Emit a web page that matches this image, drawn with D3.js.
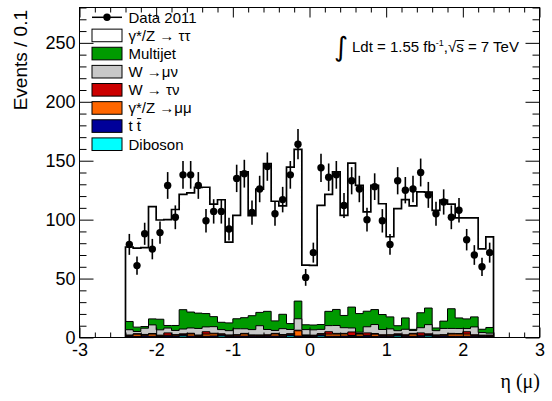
<!DOCTYPE html>
<html><head><meta charset="utf-8">
<script src="https://cdn.jsdelivr.net/npm/d3@7"></script>
<style>body{margin:0;background:#fff} svg{display:block}</style>
</head><body><svg id="c" width="552" height="401"></svg>
<script>
// ---- data ----
const etaLow = [-2.4,-2.3,-2.2,-2.1,-2.0,-1.9,-1.8,-1.7,-1.6,-1.5,-1.4,-1.3,-1.2,-1.1,-1.0,-0.9,-0.8,-0.7,-0.6,-0.5,-0.4,-0.3,-0.2,-0.1,
                0.0,0.1,0.2,0.3,0.4,0.5,0.6,0.7,0.8,0.9,1.0,1.1,1.2,1.3,1.4,1.5,1.6,1.7,1.8,1.9,2.0,2.1,2.2,2.3];
const binWidth = 0.1;
const data2011 = [79,61,88,75,89,129,102,138,138,129,99,107,107,92,135,139,106,126,145,105,117,138,164,51,
                  72,144,136,138,112,133,126,100,128,99,79,133,125,126,140,121,105,115,102,108,83,70,60,72];
const ztautau = [63.2,67.0,67.0,95.2,84.2,89.9,98.4,97.8,101.1,106.6,107.2,95.5,104.0,68.5,87.7,123.8,84.9,104.6,125.3,101.5,92.0,132.7,128.7,50.6,
                 50.6,101.1,99.3,116.8,84.9,122.1,108.7,84.3,105.3,94.0,68.0,99.4,100.4,104.7,102.6,98.4,99.8,102.7,88.7,84.9,85.7,84.0,68.2,76.8];
const multijet = [7.0,3.7,1.4,5.1,9.0,2.2,4.2,16.4,13.5,13.0,11.3,8.5,6.2,6.6,8.5,9.4,11.8,11.3,15.4,8.1,12.2,5.0,15.0,4.1,
                  4.1,4.1,12.1,13.6,10.4,17.7,15.8,13.2,12.7,12.7,10.2,4.2,9.6,0.9,12.7,14.1,2.3,6.2,16.7,9.0,8.2,8.5,2.8,4.8];
const wmunu = [4.5,1.9,5.3,7.3,4.5,4.1,3.6,4.1,4.5,5.6,4.1,5.6,3.6,3.6,5.0,3.9,4.5,7.8,4.5,2.5,5.0,3.6,9.7,4.5,
               4.5,3.6,5.2,6.7,4.8,3.4,1.1,5.2,7.6,4.5,5.0,2.7,4.7,2.5,4.4,7.8,3.6,5.3,4.2,4.2,2.7,6.7,2.2,1.6];
const wtaunu = [0.5,0.4,0.6,0.5,0.5,2.0,0.4,0.5,0.6,0.5,2.0,0.5,0.4,0.6,0.5,0.5,0.4,0.6,0.5,0.5,0.6,0.4,0.5,0.5,
                0.4,0.5,2.0,0.6,0.5,3.0,0.5,2.0,0.6,0.5,0.4,0.5,0.5,0.6,2.0,0.5,0.4,0.5,0.6,0.5,2.0,0.5,0.4,0.5];
const zmumu = [0.6,1.8,0.7,1.8,0.6,0.7,0.8,0.6,1.8,0.7,1.8,1.8,0.7,0.6,0.8,1.8,0.7,0.6,0.7,1.8,0.8,0.6,4.5,0.7,
               0.6,0.7,1.8,1.8,1.8,0.7,1.8,0.6,1.8,0.7,0.8,0.6,0.7,1.8,0.7,0.6,0.8,0.7,1.8,1.8,1.8,0.7,0.6,0.7];
const ttbar = [0.7,0.8,0.9,0.8,0.7,0.9,0.8,0.8,0.9,0.7,0.8,0.9,0.8,0.7,0.9,0.8,0.8,0.7,0.9,0.8,0.8,0.9,0.8,0.7,
               0.8,0.9,0.8,0.7,0.9,0.8,0.8,0.9,0.7,0.8,0.9,0.8,0.8,0.7,0.9,0.8,0.8,0.9,0.7,0.8,0.9,0.8,0.7,0.7];
const diboson = [0.3,0.2,0.4,0.3,0.2,0.3,0.4,1.2,0.3,0.2,0.3,0.4,1.2,0.3,0.2,0.4,0.3,0.3,0.2,0.4,0.3,1.3,0.4,0.3,
                 0.2,1.2,0.3,0.4,0.3,0.2,0.3,0.4,0.3,0.3,0.2,1.2,0.3,0.4,0.3,1.2,0.2,0.3,0.4,0.3,0.2,0.3,0.3,0.2];
const xTicks = [-3,-2,-1,0,1,2,3];
const yTicks = [0,50,100,150,200,250];
const seriesKeys = ["diboson","ttbar","zmumu","wtaunu","wmunu","multijet","ztautau"]; // bottom -> top
const seriesColors = {diboson:"#00ffff", ttbar:"#000099", zmumu:"#ff6600", wtaunu:"#cc0000",
                      wmunu:"#c8c8c8", multijet:"#009a00", ztautau:"#ffffff"};
const legendKeys = ["data","ztautau","multijet","wmunu","wtaunu","zmumu","ttbar","diboson"];

// ---- setup ----
const svg = d3.select("#c");
const FONT = "'Liberation Sans', Arial, Helvetica, sans-serif";
const SERIF = "'Liberation Serif', 'Times New Roman', serif";
const x = d3.scaleLinear().domain([-3,3]).range([79.5,539.5]);
const y = d3.scaleLinear().domain([0,280]).range([337.5,7.5]);

const rows = etaLow.map((e,i)=>({lo:e, hi:e+binWidth, diboson:diboson[i], ttbar:ttbar[i], zmumu:zmumu[i],
  wtaunu:wtaunu[i], wmunu:wmunu[i], multijet:multijet[i], ztautau:ztautau[i]}));
const stacked = d3.stack().keys(seriesKeys)(rows);

// histogram step points
function stepPts(layer){
  const pts = [{x:layer[0].data.lo, v:0}];
  layer.forEach(d=>pts.push({x:d.data.lo, v:d[1]}));
  const last = layer[layer.length-1];
  pts.push({x:last.data.hi, v:last[1]});
  pts.push({x:last.data.hi, v:0});
  return pts;
}
const area = d3.area().curve(d3.curveStepAfter).x(d=>x(d.x)).y0(y(0)).y1(d=>y(d.v));
const line = d3.line().curve(d3.curveStepAfter).x(d=>x(d.x)).y(d=>y(d.v));

const gh = svg.append("g");
// draw from top of the stack down so lower layers overpaint
for (let k = stacked.length-1; k>=0; k--){
  const layer = stacked[k];
  const pts = stepPts(layer);
  gh.append("path").attr("d", area(pts)).attr("fill", seriesColors[layer.key]).attr("stroke","none");
  gh.append("path").attr("d", line(pts)).attr("fill","none").attr("stroke","#000")
    .attr("stroke-width", layer.key==="ztautau"?1.7:1);
}

// data points
const gd = svg.append("g");
data2011.forEach((v,i)=>{
  const cx = x(etaLow[i]+binWidth/2);
  const err = Math.sqrt(v);
  gd.append("line").attr("x1",cx).attr("x2",cx).attr("y1",y(v-err)).attr("y2",y(v+err))
    .attr("stroke","#000").attr("stroke-width",1.6);
  gd.append("circle").attr("cx",cx).attr("cy",y(v)).attr("r",3.7).attr("fill","#000");
});

// ---- axes ----
const xMinor = d3.range(-3,3.001,0.2).filter(t=>Math.abs(t-Math.round(t))>1e-6);
const yMinor = d3.range(0,281,10).filter(t=>t%50!==0);
function styleAxis(g){
  g.select(".domain").remove();
  g.selectAll("line").attr("stroke","#000").attr("stroke-width",1);
  g.selectAll("text").attr("font-family",FONT).attr("font-size",18).attr("fill","#000");
}
svg.append("g").attr("transform",`translate(0,${y(0)})`)
  .call(d3.axisBottom(x).tickValues(xTicks).tickSize(-10).tickPadding(6).tickFormat(d=>String(d))).call(styleAxis);
svg.append("g").attr("transform",`translate(0,${y(0)})`)
  .call(d3.axisBottom(x).tickValues(xMinor).tickSize(-5).tickFormat("")).call(styleAxis);
svg.append("g").attr("transform",`translate(0,${y(280)})`)
  .call(d3.axisTop(x).tickValues(xTicks).tickSize(-10).tickFormat("")).call(styleAxis);
svg.append("g").attr("transform",`translate(0,${y(280)})`)
  .call(d3.axisTop(x).tickValues(xMinor).tickSize(-5).tickFormat("")).call(styleAxis);
svg.append("g").attr("transform",`translate(${x(-3)},0)`)
  .call(d3.axisLeft(y).tickValues(yTicks).tickSize(-14).tickPadding(4).tickFormat(d=>String(d))).call(styleAxis);
svg.append("g").attr("transform",`translate(${x(-3)},0)`)
  .call(d3.axisLeft(y).tickValues(yMinor).tickSize(-7).tickFormat("")).call(styleAxis);
svg.append("g").attr("transform",`translate(${x(3)},0)`)
  .call(d3.axisRight(y).tickValues(yTicks).tickSize(-14).tickFormat("")).call(styleAxis);
svg.append("g").attr("transform",`translate(${x(3)},0)`)
  .call(d3.axisRight(y).tickValues(yMinor).tickSize(-7).tickFormat("")).call(styleAxis);

svg.append("rect").attr("x",x(-3)).attr("y",y(280)).attr("width",x(3)-x(-3)).attr("height",y(0)-y(280))
  .attr("fill","none").attr("stroke","#000").attr("stroke-width",1);

// axis titles
svg.append("text").attr("transform","translate(27,10) rotate(-90)").attr("text-anchor","end")
  .attr("font-family",FONT).attr("font-size",19).text("Events / 0.1");
svg.append("text").attr("x",540).attr("y",388).attr("text-anchor","end")
  .attr("font-family",SERIF).attr("font-size",20).text("η (μ)");

// ---- legend ----
const legendText = {data:"Data 2011", ztautau:"γ*/Z → ττ", multijet:"Multijet", wmunu:"W →μν",
  wtaunu:"W → τν", zmumu:"γ*/Z →μμ", ttbar:"t t", diboson:"Diboson"};
const lg = svg.append("g");
legendKeys.forEach((k,i)=>{
  const cy = 17.3 + i*18.13;
  if (k==="data"){
    lg.append("line").attr("x1",92).attr("x2",122).attr("y1",cy).attr("y2",cy).attr("stroke","#000").attr("stroke-width",1.5);
    lg.append("circle").attr("cx",107).attr("cy",cy).attr("r",3.7).attr("fill","#000");
  } else {
    lg.append("rect").attr("x",92).attr("y",cy-6.3).attr("width",30).attr("height",12.6)
      .attr("fill",seriesColors[k]).attr("stroke","#000").attr("stroke-width",1);
  }
  const t = lg.append("text").attr("x",128.5).attr("y",cy).attr("dy","0.36em")
    .attr("font-family",FONT).attr("font-size",15).text(legendText[k]);
  if (k==="ttbar"){
    // bar over the second t
    const n = t.node();
    const s = n.getStartPositionOfChar(2).x, e = n.getEndPositionOfChar(2).x;
    lg.append("line").attr("x1",s+0.3).attr("x2",e+0.3).attr("y1",cy-7.5).attr("y2",cy-7.5)
      .attr("stroke","#000").attr("stroke-width",1);
  }
});

// ---- annotation ----
svg.append("text").attr("x",334).attr("y",56).attr("font-family","'DejaVu Sans', sans-serif")
  .attr("font-size",27).text("∫");
const ann = svg.append("text").attr("x",352).attr("y",52).attr("font-family",FONT).attr("font-size",15);
ann.append("tspan").text("Ldt = 1.55 fb");
ann.append("tspan").attr("dy",-6).attr("font-size",9).text("-1");
ann.append("tspan").attr("dy",6).text(",√");
const sIdx = ann.text().length;
ann.append("tspan").text("s");
ann.append("tspan").text(" = 7 TeV");
{
  const n = ann.node();
  const s = n.getStartPositionOfChar(sIdx).x, e = n.getEndPositionOfChar(sIdx).x;
  svg.append("line").attr("x1",s).attr("x2",e+0.5).attr("y1",40.5).attr("y2",40.5).attr("stroke","#000").attr("stroke-width",1);
}
</script></body></html>
